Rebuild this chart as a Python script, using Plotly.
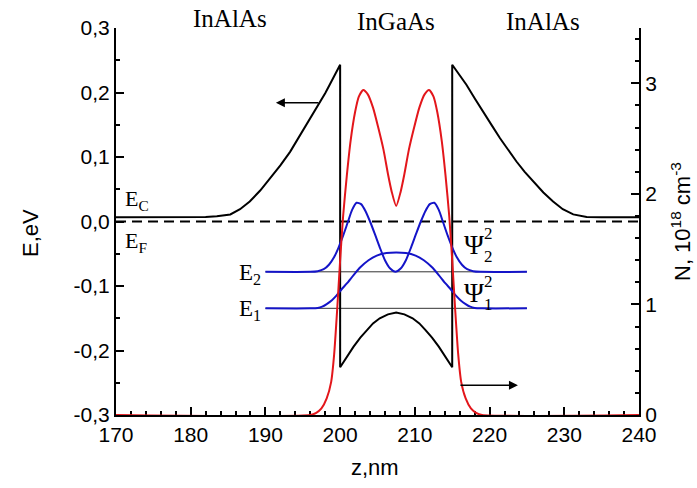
import plotly.graph_objects as go

# ---------------- data ----------------
# conduction band edge Ec(z), eV
z_ec = [170, 180, 182, 183.5, 185.3, 186.6, 187.9, 189.3, 190.6, 192.0, 193.3, 194.4, 195.5, 196.4,
        197.3, 198.0, 198.6, 199.3, 200.0, 200.0,
        200.9, 201.8, 202.7, 203.6, 204.4, 205.3, 206.4, 207.5, 208.6, 209.7, 210.6, 211.4, 212.3,
        213.2, 214.1, 215.0, 215.0,
        215.9, 216.9, 218.0, 219.2, 220.3, 221.4, 222.5, 223.6, 224.7, 225.9, 227.2, 228.5, 229.8,
        231.2, 233.0, 235, 240]
e_ec = [0.0065, 0.0065, 0.007, 0.008, 0.011, 0.019, 0.031, 0.048, 0.067, 0.087, 0.108, 0.129, 0.150, 0.168,
        0.186, 0.199, 0.212, 0.227, 0.243, -0.226,
        -0.209, -0.194, -0.180, -0.168, -0.158, -0.150, -0.144, -0.141, -0.144, -0.150, -0.158, -0.168, -0.180,
        -0.194, -0.209, -0.226, 0.243,
        0.228, 0.212, 0.191, 0.170, 0.149, 0.129, 0.110, 0.093, 0.077, 0.062, 0.045, 0.031, 0.019,
        0.011, 0.007, 0.0065, 0.0065]

# Fermi level
z_ef = [170, 240]
e_ef = [0.0, 0.0]

# electron density N(z), 1e18 cm^-3 (right axis)
z_n = [170, 196.0, 196.8, 197.5, 198.2, 198.8, 199.2, 199.6, 200.0, 200.4, 200.9, 201.4, 202.0, 202.5,
       203.1, 203.7, 204.4, 205.1, 205.8, 206.4, 206.9, 207.5, 208.1, 208.6, 209.2, 209.9, 210.6, 211.3,
       211.9, 212.5, 213.0, 213.6, 214.1, 214.6, 215.0, 215.4, 215.8, 216.2, 216.8, 217.5, 218.2, 219.0, 240]
n_n = [0, 0, 0.02, 0.06, 0.15, 0.30, 0.55, 0.95, 1.40, 1.80, 2.17, 2.48, 2.74, 2.88,
       2.94, 2.90, 2.78, 2.60, 2.40, 2.18, 2.02, 1.89, 2.02, 2.18, 2.40, 2.60, 2.78, 2.90,
       2.94, 2.88, 2.74, 2.48, 2.17, 1.80, 1.40, 0.95, 0.55, 0.30, 0.15, 0.06, 0.02, 0, 0]

# subband levels
level_names = ["E2", "E1"]
level_e = [-0.078, -0.1346]
level_z = [190, 225]

# |psi2|^2 drawn on E2 baseline
z_psi2 = [190, 196.0, 197.0, 197.8, 198.5, 199.2, 199.8, 200.4, 201.0, 201.6, 202.2, 202.8, 203.4, 204.0,
          204.6, 205.3, 206.0, 206.7, 207.4, 208.1, 208.8, 209.5, 210.2, 210.8, 211.4, 212.0, 212.6, 213.2,
          213.8, 214.4, 215.0, 215.6, 216.3, 217.0, 217.8, 218.8, 225]
e_psi2 = [-0.078, -0.078, -0.077, -0.074, -0.067, -0.055, -0.040, -0.022, -0.002, 0.018, 0.029, 0.027, 0.016,
          0.000, -0.018, -0.040, -0.060, -0.073, -0.078, -0.073, -0.060, -0.040, -0.018, 0.000, 0.016, 0.027,
          0.029, 0.018, -0.002, -0.022, -0.040, -0.055, -0.067, -0.074, -0.077, -0.078, -0.078]

# |psi1|^2 drawn on E1 baseline
z_psi1 = [190, 196, 197.0, 197.6, 198.2, 198.9, 199.5, 200.2, 200.9, 201.8, 202.7, 203.8, 204.9, 206.2, 207.5,
          208.8, 210.1, 211.2, 212.3, 213.2, 214.1, 214.8, 215.5, 216.1, 216.8, 217.4, 218.0, 219.0, 225]
e_psi1 = [-0.1346, -0.1346, -0.134, -0.132, -0.128, -0.122, -0.115, -0.105, -0.096, -0.083, -0.071, -0.060,
          -0.053, -0.049, -0.048, -0.049, -0.053, -0.060, -0.071, -0.083, -0.096, -0.105, -0.115, -0.122,
          -0.128, -0.132, -0.134, -0.1346, -0.1346]

# axis ticks
x_ticks = [170, 180, 190, 200, 210, 220, 230, 240]
y_ticks = [-0.3, -0.2, -0.1, 0.0, 0.1, 0.2, 0.3]
y_ticktext = ["-0,3", "-0,2", "-0,1", "0,0", "0,1", "0,2", "0,3"]
y2_ticks = [0, 1, 2, 3]

# region labels
regions = ["InAlAs", "InGaAs", "InAlAs"]
region_z = [185.3, 207.5, 227.2]

# ---------------- figure ----------------
BLACK = "#000000"
RED = "#e3161b"
BLUE = "#1414c8"
SERIF = "Liberation Serif, Times New Roman, serif"
SANS = "Liberation Sans, Arial, sans-serif"


def ypx(py):
    """convert a pixel row of the reference to the left-axis value"""
    return (221.5 - py) / 645


def paper_y(py):
    return (415 - py) / 387


fig = go.Figure()

for name, e in zip(level_names, level_e):
    fig.add_trace(go.Scatter(x=level_z, y=[e, e], mode="lines", line=dict(color="#333333", width=1),
                             showlegend=False, hoverinfo="skip"))

fig.add_trace(go.Scatter(x=z_ef, y=e_ef, mode="lines", line=dict(color=BLACK, width=2, dash="10px,6px"),
                         showlegend=False))
fig.add_trace(go.Scatter(x=z_ec, y=e_ec, mode="lines", line=dict(color=BLACK, width=2),
                         showlegend=False))
fig.add_trace(go.Scatter(x=z_psi2, y=e_psi2, mode="lines", line=dict(color=BLUE, width=2, shape="spline",
                         smoothing=0.6), showlegend=False))
fig.add_trace(go.Scatter(x=z_psi1, y=e_psi1, mode="lines", line=dict(color=BLUE, width=2, shape="spline",
                         smoothing=0.6), showlegend=False))
fig.add_trace(go.Scatter(x=z_n, y=n_n, mode="lines", yaxis="y2",
                         line=dict(color=RED, width=2, shape="spline", smoothing=0.6), showlegend=False))

annotations = []
region_py = [18, 22, 22]
for lab, zc, py in zip(regions, region_z, region_py):
    annotations.append(dict(x=zc, y=paper_y(py), xref="x", yref="paper",
                            text=lab, showarrow=False, font=dict(family=SERIF, size=25, color=BLACK),
                            xanchor="center", yanchor="middle"))

# E_C, E_F labels
annotations.append(dict(x=171.0, y=0.033, xref="x", yref="y", text="E<sub>C</sub>", showarrow=False,
                        xanchor="left", yanchor="middle", font=dict(family=SERIF, size=22, color=BLACK)))
annotations.append(dict(x=171.0, y=-0.032, xref="x", yref="y", text="E<sub>F</sub>", showarrow=False,
                        xanchor="left", yanchor="middle", font=dict(family=SERIF, size=22, color=BLACK)))
# E2, E1 labels
for name, e in zip(level_names, level_e):
    annotations.append(dict(x=189.7, y=e - 0.003, xref="x", yref="y", text="E<sub>%s</sub>" % name[1],
                            showarrow=False, xanchor="right", yanchor="middle",
                            font=dict(family=SERIF, size=23, color=BLACK)))
# Psi labels
for sub, yc in [("2", 245), ("1", 293)]:
    annotations.append(dict(x=217.9, y=ypx(yc), xref="x", yref="y", text="Ψ", showarrow=False,
                            xanchor="center", yanchor="middle", font=dict(family=SERIF, size=27, color=BLACK)))
    annotations.append(dict(x=219.8, y=ypx(yc - 12), xref="x", yref="y", text="2",
                            showarrow=False, xanchor="center", yanchor="middle",
                            font=dict(family=SERIF, size=17, color=BLACK)))
    annotations.append(dict(x=219.8, y=ypx(yc + 11), xref="x", yref="y", text=sub,
                            showarrow=False, xanchor="center", yanchor="middle",
                            font=dict(family=SERIF, size=17, color=BLACK)))

# arrows
annotations.append(dict(x=191.4, y=0.184, ax=197.3, ay=0.184, xref="x", yref="y", axref="x", ayref="y",
                        text="", showarrow=True, arrowhead=2, arrowsize=1.2, arrowwidth=1.5,
                        arrowcolor=BLACK))
annotations.append(dict(x=223.8, y=0.27, ax=215.9, ay=0.27, xref="x", yref="y2", axref="x", ayref="y2",
                        text="", showarrow=True, arrowhead=2, arrowsize=1.2, arrowwidth=1.5,
                        arrowcolor=BLACK))

# axis titles
annotations.append(dict(x=(30 - 116) / 523, y=paper_y(233), xref="paper", yref="paper", text="E,eV",
                        textangle=-90, showarrow=False, xanchor="center", yanchor="middle",
                        font=dict(family=SANS, size=22, color=BLACK)))
annotations.append(dict(x=(681 - 116) / 523, y=paper_y(222), xref="paper", yref="paper",
                        text="N, 10<sup>18</sup> cm<sup>-3</sup>", textangle=-90, showarrow=False,
                        xanchor="center", yanchor="middle", font=dict(family=SANS, size=22, color=BLACK)))
annotations.append(dict(x=(375 - 116) / 523, y=paper_y(467), xref="paper", yref="paper", text="z,nm",
                        showarrow=False, xanchor="center", yanchor="middle",
                        font=dict(family=SANS, size=22, color=BLACK)))

fig.update_layout(
    width=697, height=488,
    margin=dict(l=116, r=58, t=28, b=73, pad=0),
    paper_bgcolor="white", plot_bgcolor="white",
    showlegend=False,
    annotations=annotations,
    xaxis=dict(range=[170, 240], tickvals=x_ticks, ticks="inside", ticklen=8, tickwidth=1.5,
               tickcolor=BLACK, showline=True, linecolor=BLACK, linewidth=2, showgrid=False,
               zeroline=False, layer="below traces",
               tickfont=dict(family=SANS, size=21, color=BLACK),
               minor=dict(dtick=2, ticks="inside", ticklen=4, tickwidth=1.5, tickcolor=BLACK, showgrid=False)),
    yaxis=dict(range=[-0.3, 0.3], tickvals=y_ticks, ticktext=y_ticktext, ticks="inside", ticklen=8,
               tickwidth=1.5, tickcolor=BLACK, showline=True, linecolor=BLACK, linewidth=2, showgrid=False,
               zeroline=False, tickfont=dict(family=SANS, size=21, color=BLACK),
               minor=dict(dtick=0.05, tick0=0, ticks="inside", ticklen=4, tickwidth=1.5, tickcolor=BLACK,
                          showgrid=False)),
    yaxis2=dict(range=[0, 3.5], tickvals=y2_ticks, overlaying="y", side="right", ticks="inside", ticklen=8,
                tickwidth=1.5, tickcolor=BLACK, showline=True, linecolor=BLACK, linewidth=2, showgrid=False,
                zeroline=False, tickfont=dict(family=SANS, size=21, color=BLACK),
                minor=dict(dtick=0.2, tick0=0, ticks="inside", ticklen=4, tickwidth=1.5, tickcolor=BLACK,
                           showgrid=False)),
)

fig.write_html("out.html")
